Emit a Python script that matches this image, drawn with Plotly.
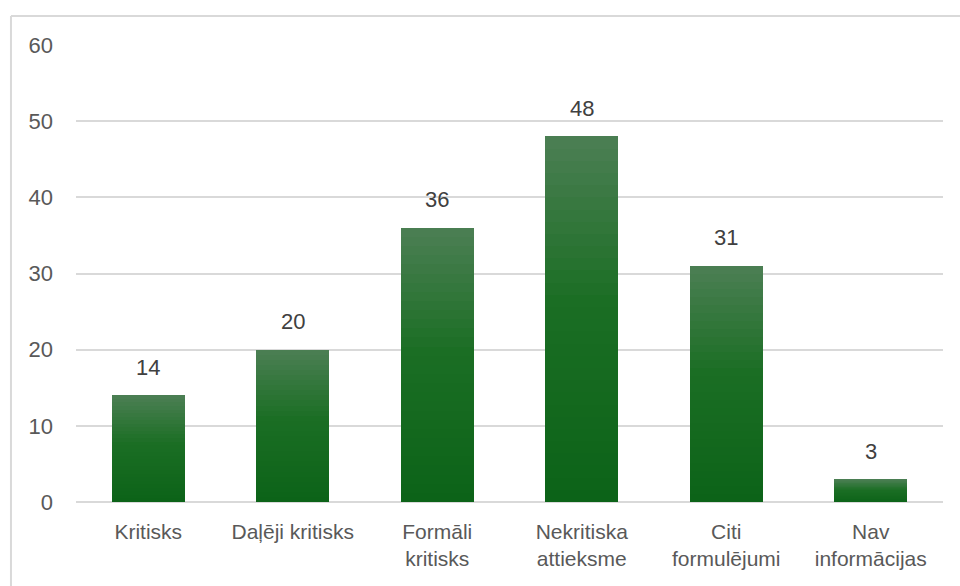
import plotly.graph_objects as go

categories = ["Kritisks", "Daļēji kritisks", "Formāli<br>kritisks", "Nekritiska<br>attieksme",
              "Citi<br>formulējumi", "Nav<br>informācijas"]
values = [14, 20, 36, 48, 31, 3]
y_ticks = [0, 10, 20, 30, 40, 50, 60]

# gradient stops (top -> bottom) used to shade each bar
stops = [(0.0, (76, 127, 84)), (0.45, (27, 110, 36)), (1.0, (12, 99, 24))]
N = 30

def color_at(t):
    for (t0, c0), (t1, c1) in zip(stops[:-1], stops[1:]):
        if t0 <= t <= t1:
            f = (t - t0) / (t1 - t0)
            return "rgb(%d,%d,%d)" % tuple(round(a + (b - a) * f) for a, b in zip(c0, c1))
    return "rgb(%d,%d,%d)" % stops[-1][1]

fig = go.Figure()
for k in range(N):
    t = 1 - (k + 0.5) / N  # k=0 bottom segment
    fig.add_trace(go.Bar(
        x=categories, y=[v / N for v in values],
        marker=dict(color=color_at(t), line=dict(width=0)),
        showlegend=False, hoverinfo="skip",
    ))

for c, v in zip(categories, values):
    fig.add_annotation(x=c, y=v, text=str(v), showarrow=False, yanchor="middle",
                       yshift=28, font=dict(family="Liberation Sans, Arial", size=22, color="#404040"))

fig.add_shape(type="line", xref="paper", yref="paper", x0=-0.075, x1=1.2, y0=1.0635, y1=1.0635,
              line=dict(color="#d9d9d9", width=2))
fig.add_shape(type="line", xref="paper", yref="paper", x0=-0.075, x1=-0.075, y0=1.0635, y1=-0.3,
              line=dict(color="#d9d9d9", width=2))

fig.update_layout(
    width=960, height=586,
    margin=dict(l=76, r=17, t=45, b=84),
    barmode="stack", bargap=0.495,
    plot_bgcolor="white", paper_bgcolor="white",
    font=dict(family="Liberation Sans, Arial", size=21, color="#595959"),
    xaxis=dict(showgrid=False, showline=False, zeroline=False, ticks="",
               ticklabelstandoff=15, tickfont=dict(size=21, color="#595959")),
    yaxis=dict(range=[0, 60], tickvals=y_ticks, showgrid=True, gridcolor="#d9d9d9", gridwidth=1.5,
               zeroline=True, zerolinecolor="#d9d9d9", zerolinewidth=1.5, showline=False,
               ticks="", ticklabelstandoff=22, tickfont=dict(size=22, color="#595959")),
)

fig.write_html("out.html")
